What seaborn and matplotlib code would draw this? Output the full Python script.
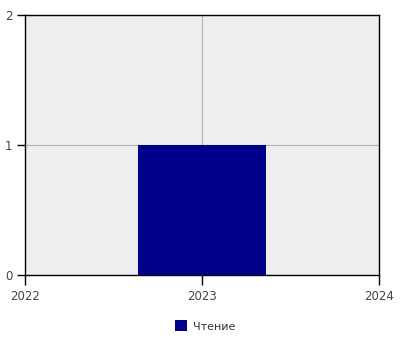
import matplotlib
matplotlib.use("Agg")
import matplotlib.pyplot as plt
import seaborn as sns
import pandas as pd
from matplotlib.patches import Patch

years = [2023]
values = [1]
series_name = "Чтение"
x_ticks = [2022, 2023, 2024]
y_ticks = [0, 1, 2]
bar_color = "#00008b"

sns.set_style("ticks")
plt.rcParams['font.family'] = ['DejaVu Sans']

fig = plt.figure(figsize=(4, 3.5), dpi=100)
ax = fig.add_axes([25/400, 75/350, 354/400, 260/350])

df = pd.DataFrame({"year": years, "value": values})
sns.barplot(data=df, x="year", y="value", native_scale=True, color=bar_color,
            saturation=1, width=0.72, ax=ax, zorder=3, edgecolor="none", linewidth=0)

ax.set_facecolor("#eeeeee")
ax.set_xlim(2022, 2024)
ax.set_ylim(0, 2)
ax.set_xticks(x_ticks)
ax.set_xticklabels([str(t) for t in x_ticks])
ax.set_yticks(y_ticks)
ax.grid(True, color="#b0b0b0", linewidth=0.8, zorder=0)
ax.set_axisbelow(True)
ax.set_xlabel("")
ax.set_ylabel("")
for s in ax.spines.values():
    s.set_visible(True)
    s.set_color("black")
    s.set_linewidth(1)
ax.tick_params(axis="x", length=7, width=1, color="black", labelsize=8.5, labelcolor="#444444", pad=4)
ax.tick_params(axis="y", length=6, width=1, color="black", labelsize=8.5, labelcolor="#444444", pad=3)

handles = [Patch(facecolor=bar_color, edgecolor="none", label=series_name)]
fig.legend(handles=handles, loc="center", bbox_to_anchor=(0.513, 24/350), frameon=False,
           fontsize=8, labelcolor="#333333", handlelength=1.1, handleheight=1.1, handletextpad=0.6)

fig.savefig("out.png", dpi=100)
